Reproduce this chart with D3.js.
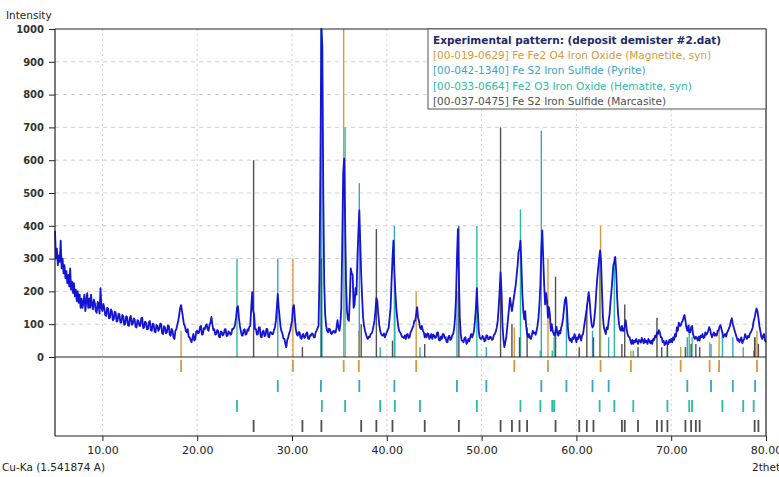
<!DOCTYPE html>
<html>
<head>
<meta charset="utf-8">
<script src="https://cdn.jsdelivr.net/npm/d3@7"></script>
<style>
  body { margin: 0; background: #fff; }
  svg { display: block; font-family: 'DejaVu Sans', Verdana, sans-serif; }
</style>
</head>
<body>
<div class="vis-xrd"></div>
<script>
// experimental scan: 2theta from 5.0 in steps of 0.1, one row per degree
const expStart = 5.0;
const expStep = 0.1;
const expIntensity = [
  385,300,330,280,310,290,355,270,300,255,  // 5
  280,240,262,225,250,215,270,205,230,195,  // 6
  225,185,205,170,200,165,190,150,178,150,  // 7
  168,190,140,172,195,150,178,150,190,160,  // 8
  145,175,165,140,135,168,160,132,210,150,  // 9
  140,162,150,128,125,150,148,118,120,145,  // 10
  140,112,115,138,135,108,110,132,130,105,  // 11
  105,128,125,98,100,124,122,96,95,120,     // 12
  125,98,100,118,115,92,90,112,110,95,      // 13
  95,118,120,88,90,108,105,84,85,106,       // 14
  110,82,80,102,100,78,75,98,95,80,         // 15
  85,102,100,72,70,94,90,72,75,96,          // 16
  95,68,65,86,80,60,55,80,85,98,            // 17
  110,128,150,158,140,120,100,95,80,75,     // 18
  85,62,60,52,45,58,70,50,55,78,            // 19
  80,72,75,92,95,68,70,88,85,96,            // 20
  100,84,80,98,105,122,100,82,85,68,        // 21
  70,82,80,62,60,78,75,66,70,84,            // 22
  85,64,65,78,75,68,70,86,85,90,            // 23
  100,120,150,155,120,95,80,66,65,82,       // 24
  85,68,70,84,80,92,95,150,198,140,         // 25
  130,85,85,68,70,90,90,62,60,78,           // 26
  80,64,65,86,85,62,60,76,75,70,            // 27
  70,82,90,110,150,192,150,120,90,78,       // 28
  70,56,55,40,30,52,60,72,80,95,            // 29
  110,150,158,120,85,70,65,76,75,58,        // 30
  55,68,70,58,60,72,75,56,55,66,            // 31
  65,72,70,60,60,76,80,88,95,250,           // 32
  600,1000,950,500,220,130,95,80,75,86,     // 33
  85,72,70,78,80,74,75,90,112,90,           // 34
  80,100,150,350,560,605,420,230,140,115,   // 35
  110,180,270,255,250,150,160,210,190,300,  // 36
  380,447,350,250,180,120,95,80,70,60,      // 37
  55,62,60,70,72,80,95,110,140,180,         // 38
  170,130,100,80,70,66,65,72,60,68,         // 39
  75,82,90,120,150,230,300,355,260,200,     // 40
  150,120,95,80,75,70,62,60,58,66,          // 41
  55,68,70,58,60,74,80,88,95,110,           // 42
  110,130,152,120,110,90,85,95,80,75,       // 43
  60,70,60,72,70,55,62,70,55,68,            // 44
  65,58,60,74,75,52,50,62,55,70,            // 45
  70,58,60,46,45,62,65,52,55,66,            // 46
  70,85,120,180,300,390,250,120,70,50,      // 47
  50,45,58,60,40,44,55,48,60,70,            // 48
  60,68,80,110,150,210,140,80,60,55,        // 49
  55,64,60,48,50,66,65,54,55,62,            // 50
  60,52,55,68,70,78,90,110,150,200,         // 51
  258,200,100,55,30,45,60,90,120,150,       // 52
  180,160,140,160,180,200,220,250,280,320,  // 53
  330,355,280,190,140,115,140,95,70,60,     // 54
  70,58,55,66,80,72,75,68,80,95,            // 55
  120,160,220,330,386,300,220,160,195,170,  // 56
  120,152,130,80,100,80,70,65,80,92,        // 57
  70,65,80,72,90,100,120,150,175,182,       // 58
  150,90,60,50,55,45,60,55,70,60,           // 59
  45,60,55,70,62,50,66,70,90,110,           // 60
  130,150,175,198,170,130,100,90,95,120,    // 61
  150,200,240,270,300,325,290,200,120,90,   // 62
  80,70,90,85,110,130,170,200,240,280,      // 63
  290,305,260,180,130,100,85,80,95,80,      // 64
  80,95,112,85,70,62,60,50,40,52,           // 65
  40,50,45,55,48,40,52,50,44,58,            // 66
  50,42,55,45,50,40,55,48,42,50,            // 67
  40,55,52,65,60,75,70,82,75,60,            // 68
  60,45,50,36,42,50,38,40,52,45,            // 69
  55,45,60,52,70,62,90,80,105,95,           // 70
  95,105,110,120,128,110,90,80,95,75,       // 71
  75,90,95,70,60,55,62,58,50,62,            // 72
  50,65,60,70,58,60,75,68,72,80,            // 73
  91,85,70,60,68,75,65,70,65,80,            // 74
  80,92,97,85,75,60,66,70,62,75,            // 75
  80,88,95,110,118,100,90,80,70,60,         // 76
  50,55,45,52,60,42,50,55,70,62,            // 77
  55,64,60,72,75,82,90,110,120,135,         // 78
  148,140,120,95,80,62,55,66,70,50,         // 79
  45                                        // 80
];

// reference patterns (stick positions and relative heights)
const magnetitePos = [18.3, 30.1, 35.45, 37.05, 43.1, 53.45, 57.0, 62.55, 65.75, 71.0, 74.05, 75.05, 79.05];
const magnetiteInt = [80, 300, 1000, 80, 200, 90, 300, 400, 20, 30, 45, 80, 80];
const pyritePos = [28.5, 33.05, 37.1, 40.8, 47.4, 50.5, 56.3, 58.95, 61.7, 63.4, 71.7, 74.2, 76.5, 78.85];
const pyriteInt = [300, 1000, 530, 400, 200, 30, 690, 180, 80, 60, 60, 40, 60, 60];
const hematitePos = [24.2, 33.15, 35.6, 39.3, 40.85, 43.5, 49.5, 54.1, 56.2, 57.45, 57.65, 62.45, 64.0, 66.0, 69.6, 71.9, 72.2, 75.4, 77.6, 78.7];
const hematiteInt = [300, 1000, 700, 30, 200, 30, 400, 450, 20, 20, 60, 300, 305, 20, 30, 100, 60, 80, 30, 20];
const marcasitePos = [25.95, 31.1, 33.1, 37.3, 38.9, 40.6, 44.0, 47.6, 52.0, 53.2, 54.0, 54.8, 57.8, 60.3, 61.1, 61.8, 64.8, 65.1, 66.5, 68.5, 69.0, 69.6, 71.5, 72.1, 72.6, 73.0, 78.8, 79.2];
const marcasiteInt = [600, 30, 300, 100, 390, 50, 40, 400, 700, 100, 60, 90, 245, 30, 160, 60, 40, 160, 30, 120, 30, 40, 30, 40, 40, 30, 60, 40];

const legendLabels = [
  'Experimental pattern: (deposit demister #2.dat)',
  '[00-019-0629] Fe Fe2 O4 Iron Oxide (Magnetite, syn)',
  '[00-042-1340] Fe S2 Iron Sulfide (Pyrite)',
  '[00-033-0664] Fe2 O3 Iron Oxide (Hematite, syn)',
  '[00-037-0475] Fe S2 Iron Sulfide (Marcasite)'
];
const yTicks = [0, 100, 200, 300, 400, 500, 600, 700, 800, 900, 1000];
const xTicks = [10, 20, 30, 40, 50, 60, 70, 80];

const expColor = '#1414d2';
const legendColors = ['#1d2a6b', '#d69a3a', '#3aa3c8', '#2cbca2', '#505050'];

const W = 779, H = 477;
const plotLeft = 55, plotRight = 766, plotTop = 29, zeroY = 357, plotBottom = 436;

const svg = d3.select('.vis-xrd').append('svg')
  .attr('width', W)
  .attr('height', H);

const x = d3.scaleLinear().domain([5, 80]).range([plotLeft, plotRight]);
const y = d3.scaleLinear().domain([0, 1000]).range([zeroY, plotTop]);

// grid
svg.append('g').selectAll('line')
  .data(yTicks.filter(d => d > 0 && d < 1000))
  .enter().append('line')
  .attr('x1', plotLeft).attr('x2', plotRight)
  .attr('y1', d => y(d)).attr('y2', d => y(d))
  .attr('stroke', '#cfcfcf').attr('stroke-dasharray', '4,4');

svg.append('g').selectAll('line')
  .data(xTicks.filter(d => d < 80))
  .enter().append('line')
  .attr('x1', d => x(d)).attr('x2', d => x(d))
  .attr('y1', plotTop).attr('y2', plotBottom)
  .attr('stroke', '#cfcfcf').attr('stroke-dasharray', '2,3');

const phases = [
  { pos: magnetitePos, val: magnetiteInt, color: legendColors[1] },
  { pos: pyritePos, val: pyriteInt, color: legendColors[2] },
  { pos: hematitePos, val: hematiteInt, color: legendColors[3] },
  { pos: marcasitePos, val: marcasiteInt, color: legendColors[4] }
];

// sticks in the main plot
phases.forEach(p => {
  svg.append('g').selectAll('line')
    .data(p.pos.map((d, i) => [d, p.val[i]]))
    .enter().append('line')
    .attr('x1', d => x(d[0])).attr('x2', d => x(d[0]))
    .attr('y1', zeroY).attr('y2', d => y(d[1]))
    .attr('stroke', p.color).attr('stroke-width', 1.4);
});

// experimental line
const line = d3.line()
  .x((d, i) => x(expStart + i * expStep))
  .y(d => y(d));
svg.append('path')
  .datum(expIntensity)
  .attr('d', line)
  .attr('fill', 'none')
  .attr('stroke', expColor)
  .attr('stroke-width', 1.8)
  .attr('stroke-linejoin', 'round');

// stick strips below the plot
phases.forEach((p, k) => {
  const cy = 366 + k * 20;
  svg.append('g').selectAll('line')
    .data(p.pos)
    .enter().append('line')
    .attr('x1', d => x(d)).attr('x2', d => x(d))
    .attr('y1', cy - 6).attr('y2', cy + 6)
    .attr('stroke', p.color).attr('stroke-width', 1.8);
});

// frame
const frame = svg.append('g').attr('stroke', '#222').attr('stroke-width', 1.2).attr('fill', 'none');
frame.append('line').attr('x1', plotLeft).attr('x2', plotRight).attr('y1', plotTop).attr('y2', plotTop);
frame.append('line').attr('x1', plotLeft).attr('x2', plotRight).attr('y1', zeroY).attr('y2', zeroY);
frame.append('line').attr('x1', plotLeft).attr('x2', plotRight).attr('y1', plotBottom).attr('y2', plotBottom);
frame.append('line').attr('x1', plotLeft).attr('x2', plotLeft).attr('y1', plotTop).attr('y2', plotBottom);
frame.append('line').attr('x1', plotRight).attr('x2', plotRight).attr('y1', plotTop).attr('y2', plotBottom);

// axes
const yAxis = svg.append('g')
  .attr('transform', 'translate(' + plotLeft + ',0)')
  .call(d3.axisLeft(y).tickValues(yTicks).tickSize(6).tickPadding(5).tickFormat(d3.format('d')));
yAxis.select('.domain').remove();
yAxis.selectAll('text').style('font-size', '10px').style('font-weight', 'bold')
  .style('font-family', 'DejaVu Sans').attr('fill', '#333');
yAxis.selectAll('line').attr('stroke', '#222');

const xAxis = svg.append('g')
  .attr('transform', 'translate(0,' + plotBottom + ')')
  .call(d3.axisBottom(x).tickValues(xTicks).tickSize(5).tickPadding(5).tickFormat(d3.format('.2f')));
xAxis.select('.domain').remove();
xAxis.selectAll('text').style('font-size', '11px').style('font-family', 'DejaVu Sans').attr('fill', '#222');
xAxis.selectAll('line').attr('stroke', '#222');

// axis titles
svg.append('text').attr('x', 6).attr('y', 19).text('Intensity')
  .style('font-size', '10.5px').attr('fill', '#222');
svg.append('text').attr('x', 2).attr('y', 471).text('Cu-Ka (1.541874 A)')
  .style('font-size', '10.5px').attr('fill', '#222');
svg.append('text').attr('x', 752).attr('y', 471).text('2theta')
  .style('font-size', '10.5px').attr('fill', '#222');

// legend
const legend = svg.append('g');
legend.append('rect')
  .attr('x', 428).attr('y', plotTop).attr('width', plotRight - 428).attr('height', 80)
  .attr('fill', '#fff').attr('stroke', '#555').attr('stroke-width', 1);
legend.selectAll('text')
  .data(legendLabels)
  .enter().append('text')
  .attr('x', 433)
  .attr('y', (d, i) => 44 + i * 15.2)
  .text(d => d)
  .style('font-size', '10.5px')
  .style('font-weight', (d, i) => i === 0 ? 'bold' : 'normal')
  .attr('fill', (d, i) => legendColors[i]);
</script>
</body>
</html>
